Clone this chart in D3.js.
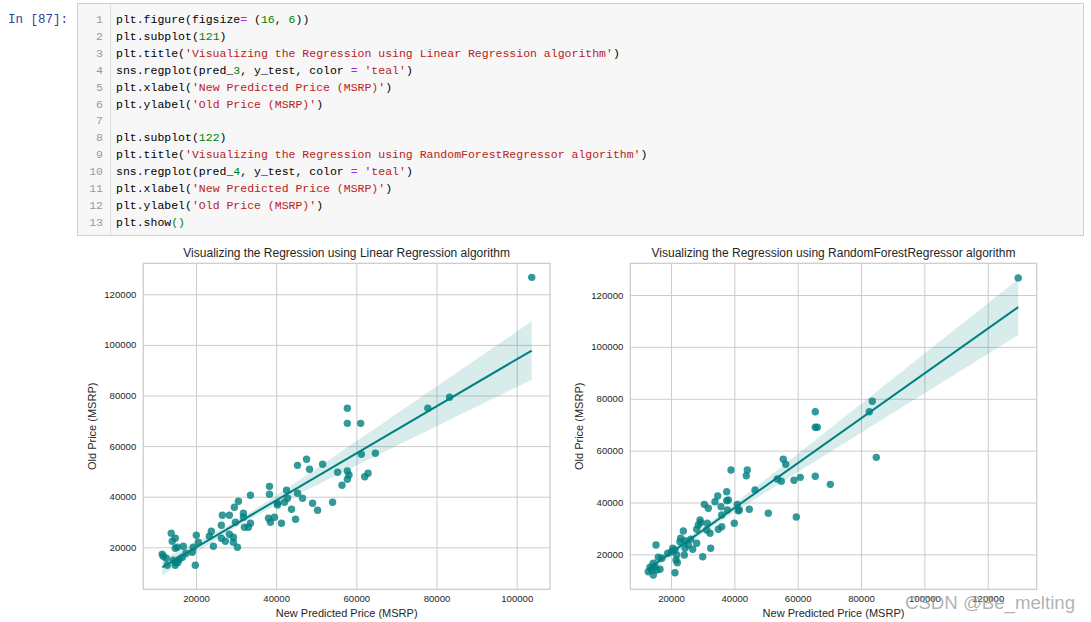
<!DOCTYPE html>
<html><head><meta charset="utf-8">
<script src="https://cdn.jsdelivr.net/npm/d3@7"></script>
<style>body{margin:0;background:#fff}svg{display:block}</style>
</head><body>
<svg id="c" width="1091" height="622"></svg>
<script>
// ---------- data ----------
const linearPred = [103750,57750,57750,61080,77830,83250,64750,61250,51580,47580,45330,48330,55330,57750,58170,57750,56420,62920,62080,
 38330,38330,33580,42580,45330,46580,42830,42080,40330,40330,49080,54080,43830,50330,44830,38080,39580,38580,41330,
 30580,29580,31830,31830,33580,32080,33080,29830,26580,28330,26330,26330,27330,28330,29330,29330,30330,
 23830,23330,24330,20080,20580,19330,19080,19830,16830,16580,15830,17500,
 13830,14080,14830,14830,15330,11580,11830,12580,12830,14830,14830,14330,15500];
const linearActual = [126700,74940,69000,69000,74940,79290,57150,56750,52800,54780,52400,50830,49640,50160,48580,46870,44500,49250,47910,
 44100,40950,40550,42530,41340,39360,39360,37780,37390,36720,37390,37780,35020,34620,31070,31460,31860,29880,29490,
 38180,35810,33440,31860,29490,27900,27900,29880,32650,32650,28700,23560,22370,25140,23950,21980,20000,
 26320,24350,20400,24740,21980,20000,18020,12890,20400,16050,15260,17630,
 25530,22370,23560,19600,20000,17230,16440,15650,12890,14070,12890,14860,14000];

const forestPred = [129630,65560,65560,66190,82610,83560,84820,55450,56210,44080,43770,38940,
 46520,53560,54820,58830,60820,65560,70300,41560,44710,50720,59560,
 30510,31770,33880,34740,37580,38090,37580,35780,36000,37770,40930,41240,39980,36000,34930,
 29150,29370,31450,32310,31260,28100,32520,23880,28610,26210,23050,
 22830,24410,25450,24410,26840,28100,30000,
 20530,20210,21250,18950,21790,21570,21990,21250,24190,17050,15250,15980,
 14400,14940,13900,15470,16520,14400,12820,13360];
const forestActual = [126600,75000,69000,69000,75000,79020,57400,56650,54720,52520,50330,52520,
 44810,49050,48160,48550,49700,50090,47000,37100,37370,35830,34400,
 39290,37760,40300,42500,44160,40960,40690,38370,35170,37100,39290,36830,31970,30660,29660,
 33240,32200,31970,28110,29390,29660,22330,29000,31320,25800,26190,
 24870,25260,23600,22330,21940,24260,19090,
 22330,21020,21670,20400,19750,17820,16780,12920,19750,18470,23600,18860,
 16540,15230,13960,13960,14230,12030,13300,15000];

const xTicksLinear = [20000,40000,60000,80000,100000];
const xTicksForest = [20000,40000,60000,80000,100000,120000];
const yTicks = [20000,40000,60000,80000,100000,120000];

const titles = ["Visualizing the Regression using Linear Regression algorithm",
                "Visualizing the Regression using RandomForestRegressor algorithm"];
const xLabel = "New Predicted Price (MSRP)";
const yLabel = "Old Price (MSRP)";

const codeLines = [
 "plt.figure(figsize= (16, 6))",
 "plt.subplot(121)",
 "plt.title('Visualizing the Regression using Linear Regression algorithm')",
 "sns.regplot(pred_3, y_test, color = 'teal')",
 "plt.xlabel('New Predicted Price (MSRP)')",
 "plt.ylabel('Old Price (MSRP)')",
 "",
 "plt.subplot(122)",
 "plt.title('Visualizing the Regression using RandomForestRegressor algorithm')",
 "sns.regplot(pred_4, y_test, color = 'teal')",
 "plt.xlabel('New Predicted Price (MSRP)')",
 "plt.ylabel('Old Price (MSRP)')",
 "plt.show()"
];
const promptText = "In [87]:";
const watermark = "CSDN @Be_melting";

// ---------- drawing ----------
const svg = d3.select("#c");
svg.append("rect").attr("width",1091).attr("height",622).attr("fill","#fff");

const mono = "Liberation Mono, DejaVu Sans Mono, monospace";
const cell = svg.append("g");
cell.append("text").attr("x",8).attr("y",23).attr("fill","#303F9F")
  .attr("font-family",mono).attr("font-size",12.5)
  .style("white-space","pre").text(promptText);
cell.append("rect").attr("x",77.5).attr("y",3.5).attr("width",1006).attr("height",232)
  .attr("fill","#f7f7f7").attr("stroke","#cfcfcf");
cell.append("line").attr("x1",110.5).attr("x2",110.5).attr("y1",4).attr("y2",235).attr("stroke","#dddddd");
const lineH = 16.9;
codeLines.forEach((ln,i)=>{
  const y = 23 + i*lineH;
  cell.append("text").attr("x",103).attr("y",y).attr("text-anchor","end").attr("fill","#999")
    .attr("font-family",mono).attr("font-size",11.5).text(i+1);
  const t = cell.append("text").attr("x",116).attr("y",y)
    .attr("font-family",mono).attr("font-size",11.5)
    .style("white-space","pre");
  const re = /('[^']*')|(\d+)|(=)|([^'\d=]+)/g;
  let m;
  const last = i === codeLines.length-1;
  while((m = re.exec(ln))){
    let color = "#000";
    if(m[1]) color = "#ba2121"; else if(m[2]) color = "#008000"; else if(m[3]) color = "#aa22ff";
    const s = m[0];
    if(last && s.endsWith("()")){
      t.append("tspan").attr("fill",color).text(s.slice(0,-2));
      t.append("tspan").attr("fill","#008000").text("()");
    } else t.append("tspan").attr("fill",color).text(s);
  }
});

// OLS fit with a robust (sandwich) standard error, close to seaborn's bootstrap band
function ols(xs, ys){
  const n = xs.length, mx = d3.mean(xs), my = d3.mean(ys);
  let sxx=0, sxy=0;
  for(let i=0;i<n;i++){ sxx += (xs[i]-mx)**2; sxy += (xs[i]-mx)*(ys[i]-my); }
  const b = sxy/sxx, a = my - b*mx;
  let m00=0, m01=0, m11=0;
  for(let i=0;i<n;i++){
    const e = ys[i]-a-b*xs[i], d = xs[i]-mx;
    m00 += e*e; m01 += e*e*d; m11 += e*e*d*d;
  }
  const se = v => {
    const D = v-mx;
    return Math.sqrt(m00/(n*n) + 2*D*m01/(n*sxx) + D*D*m11/(sxx*sxx));
  };
  return {a,b,se};
}

const teal = "#008080";
const font = "Liberation Sans, Arial, sans-serif";

function panel(cfg){
  const g = svg.append("g");
  const x = d3.scaleLinear().domain(cfg.xDomain).range([cfg.left,cfg.right]);
  const y = d3.scaleLinear().domain(cfg.yDomain).range([cfg.bottom,cfg.top]);
  const h = cfg.bottom-cfg.top, w = cfg.right-cfg.left;
  const xa = g.append("g").attr("transform",`translate(0,${cfg.bottom})`)
    .call(d3.axisBottom(x).tickValues(cfg.xTicks).tickSize(-h).tickPadding(6).tickFormat(d3.format("d")));
  const ya = g.append("g").attr("transform",`translate(${cfg.left},0)`)
    .call(d3.axisLeft(y).tickValues(yTicks).tickSize(-w).tickPadding(7).tickFormat(d3.format("d")));
  [xa,ya].forEach(a=>{
    a.select(".domain").remove();
    a.selectAll("line").attr("stroke","#cccccc").attr("stroke-width",1);
    a.selectAll("text").attr("fill","#262626").attr("font-family",font).attr("font-size",9.6);
  });
  g.append("rect").attr("x",cfg.left).attr("y",cfg.top).attr("width",w).attr("height",h)
    .attr("fill","none").attr("stroke","#cccccc").attr("stroke-width",1.25);
  g.append("g").selectAll("circle").data(cfg.xs.map((v,i)=>[v,cfg.ys[i]])).join("circle")
    .attr("cx",d=>x(d[0])).attr("cy",d=>y(d[1])).attr("r",3.7)
    .attr("fill",teal).attr("fill-opacity",0.8);
  const r = ols(cfg.xs, cfg.ys);
  const [x0,x1] = d3.extent(cfg.xs);
  const grid = d3.range(0,101).map(k=>x0+(x1-x0)*k/100);
  const z = 1.96;
  const band = grid.map(v=>{
    const yh = r.a + r.b*v, s = r.se(v);
    return [v, yh-z*s, yh+z*s];
  });
  g.append("path").datum(band)
    .attr("d", d3.area().x(d=>x(d[0])).y0(d=>y(d[1])).y1(d=>y(d[2])))
    .attr("fill",teal).attr("fill-opacity",0.15);
  g.append("line").attr("x1",x(x0)).attr("y1",y(r.a+r.b*x0)).attr("x2",x(x1)).attr("y2",y(r.a+r.b*x1))
    .attr("stroke",teal).attr("stroke-width",2);
  g.append("text").attr("x",(cfg.left+cfg.right)/2).attr("y",257).attr("text-anchor","middle")
    .attr("fill","#262626").attr("font-family",font).attr("font-size",12).text(cfg.title);
  g.append("text").attr("x",(cfg.left+cfg.right)/2).attr("y",617).attr("text-anchor","middle")
    .attr("fill","#262626").attr("font-family",font).attr("font-size",11).text(xLabel);
  g.append("text").attr("transform",`translate(${cfg.ylabX},${(cfg.top+cfg.bottom)/2}) rotate(-90)`)
    .attr("text-anchor","middle").attr("fill","#262626").attr("font-family",font).attr("font-size",11).text(yLabel);
}

panel({left:143.3,right:550,top:263.3,bottom:589.3,xDomain:[6860,108300],yDomain:[3400,132250],
  xTicks:xTicksLinear,xs:linearPred,ys:linearActual,title:titles[0],ylabX:96});
panel({left:630.3,right:1036.7,top:263.3,bottom:589.3,xDomain:[7137,135470],yDomain:[6520,132240],
  xTicks:xTicksForest,xs:forestPred,ys:forestActual,title:titles[1],ylabX:583});

svg.append("text").attr("x",905).attr("y",609).attr("fill","#999999").attr("fill-opacity",0.75)
  .attr("font-family","Liberation Sans, Arial, sans-serif").attr("font-size",19)
  .attr("textLength",170).attr("lengthAdjust","spacingAndGlyphs").text(watermark);
</script>
</body></html>
